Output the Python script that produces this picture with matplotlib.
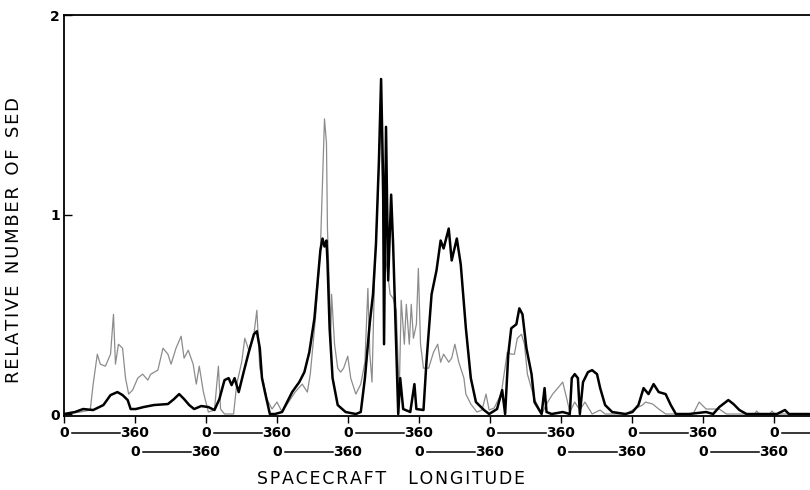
import numpy as np
import matplotlib
matplotlib.use("Agg")
import matplotlib.pyplot as plt
import matplotlib.transforms as mtransforms

# cumulative spacecraft longitude (deg) and relative number of SED
black_lon = [0, 56, 97, 148, 200, 236, 271, 297, 323, 338, 364, 404, 456, 527, 558, 584, 609,
             635, 660, 696, 732, 763, 788, 814, 835, 850, 865, 886, 911, 937, 963, 978, 993,
             1004, 1019, 1044, 1070, 1106, 1157, 1193, 1219, 1244, 1270, 1285, 1300, 1311,
             1321, 1331, 1336, 1347, 1362, 1388, 1428, 1480, 1505, 1526, 1551, 1567, 1582,
             1597, 1608, 1618, 1623, 1633, 1644, 1659, 1669, 1679, 1695, 1705, 1720, 1756,
             1777, 1787, 1823, 1838, 1864, 1889, 1910, 1925, 1951, 1966, 1992, 2012, 2038,
             2063, 2089, 2130, 2156, 2196, 2222, 2237, 2253, 2268, 2294, 2309, 2325, 2345,
             2371, 2386, 2422, 2437, 2447, 2473, 2529, 2565, 2575, 2590, 2606, 2616, 2632,
             2657, 2678, 2703, 2719, 2744, 2780, 2847, 2883, 2913, 2939, 2964, 2990, 3016,
             3051, 3077, 3103, 3169, 3256, 3292, 3323, 3369, 3395, 3425, 3461, 3615, 3656,
             3676, 3820]
black_sed = [0.0, 0.01, 0.025, 0.02, 0.045, 0.095, 0.11, 0.095, 0.07, 0.025, 0.025, 0.035,
             0.045, 0.05, 0.075, 0.10, 0.075, 0.045, 0.025, 0.04, 0.035, 0.02, 0.075, 0.17,
             0.18, 0.145, 0.18, 0.11, 0.21, 0.31, 0.40, 0.415, 0.33, 0.18, 0.11, 0.0, 0.0,
             0.01, 0.11, 0.16, 0.21, 0.31, 0.48, 0.65, 0.82, 0.88, 0.84, 0.87, 0.77, 0.43,
             0.18, 0.045, 0.01, 0.0, 0.01, 0.18, 0.46, 0.60, 0.85, 1.27, 1.68, 1.19, 0.35,
             1.44, 0.67, 1.10, 0.85, 0.52, 0.0, 0.18, 0.025, 0.01, 0.15, 0.025, 0.02, 0.26,
             0.60, 0.72, 0.87, 0.83, 0.93, 0.77, 0.88, 0.75, 0.43, 0.18, 0.06, 0.02, 0.0,
             0.025, 0.12, 0.0, 0.30, 0.43, 0.45, 0.53, 0.50, 0.33, 0.20, 0.06, 0.0, 0.13,
             0.01, 0.0, 0.01, 0.0, 0.18, 0.20, 0.18, 0.0, 0.16, 0.21, 0.22, 0.20, 0.13,
             0.045, 0.01, 0.0, 0.01, 0.045, 0.13, 0.10, 0.15, 0.11, 0.10, 0.045, 0.0, 0.0,
             0.01, 0.0, 0.035, 0.07, 0.05, 0.02, 0.0, 0.0, 0.02, 0.0, 0.0]

grey_lon = [0, 82, 133, 148, 169, 184, 210, 236, 251, 261, 276, 297, 312, 328, 348, 374, 399,
            425, 440, 476, 502, 527, 543, 568, 594, 609, 630, 655, 671, 686, 707, 732, 763,
            783, 794, 814, 860, 876, 901, 917, 937, 963, 978, 993, 1014, 1029, 1055, 1080,
            1106, 1172, 1208, 1234, 1249, 1275, 1300, 1321, 1331, 1336, 1347, 1352, 1357,
            1372, 1388, 1403, 1418, 1439, 1454, 1480, 1505, 1526, 1541, 1551, 1562, 1577,
            1592, 1603, 1608, 1618, 1633, 1654, 1669, 1685, 1700, 1710, 1726, 1736, 1751,
            1761, 1772, 1787, 1797, 1808, 1823, 1849, 1874, 1895, 1910, 1925, 1951, 1966,
            1982, 2002, 2028, 2038, 2063, 2094, 2120, 2140, 2156, 2181, 2217, 2232, 2248,
            2268, 2284, 2299, 2320, 2335, 2350, 2386, 2422, 2453, 2478, 2504, 2529, 2550,
            2565, 2590, 2616, 2642, 2678, 2719, 2744, 2847, 2883, 2934, 2949, 2985, 3016,
            3051, 3190, 3221, 3256, 3323, 3359, 3502, 3512, 3528, 3579, 3590, 3605, 3820]
grey_sed = [0.0, 0.01, 0.02, 0.15, 0.30, 0.25, 0.24, 0.30, 0.50, 0.25, 0.35, 0.33, 0.18,
            0.10, 0.12, 0.18, 0.20, 0.17, 0.20, 0.22, 0.33, 0.30, 0.25, 0.33, 0.39, 0.28,
            0.32, 0.25, 0.15, 0.24, 0.11, 0.01, 0.02, 0.24, 0.025, 0.0, 0.0, 0.15, 0.26,
            0.38, 0.32, 0.40, 0.52, 0.23, 0.15, 0.075, 0.025, 0.06, 0.01, 0.11, 0.15, 0.11,
            0.20, 0.48, 0.82, 1.48, 1.36, 0.93, 0.60, 0.35, 0.60, 0.35, 0.23, 0.21, 0.23,
            0.29, 0.18, 0.10, 0.15, 0.26, 0.63, 0.30, 0.16, 0.77, 1.10, 1.44, 1.36, 1.02,
            0.77, 0.60, 0.58, 0.52, 0.10, 0.57, 0.35, 0.55, 0.35, 0.55, 0.38, 0.45, 0.73,
            0.35, 0.23, 0.23, 0.31, 0.35, 0.26, 0.30, 0.26, 0.28, 0.35, 0.26, 0.18, 0.10,
            0.05, 0.01, 0.02, 0.10, 0.02, 0.03, 0.10, 0.20, 0.31, 0.30, 0.30, 0.38, 0.40,
            0.35, 0.20, 0.075, 0.0, 0.06, 0.10, 0.13, 0.16, 0.075, 0.01, 0.06, 0.02, 0.06,
            0.0, 0.02, 0.0, 0.0, 0.02, 0.045, 0.06, 0.05, 0.025, 0.0, 0.0, 0.06, 0.025,
            0.025, 0.0, 0.0, 0.015, 0.0, 0.0, 0.015, 0.0, 0.0]

n_turns = 11  # rotations shown along the axis (0-360 each)
x_max = 3820

fig = plt.figure(figsize=(8.1, 4.9), dpi=100)
ax = fig.add_axes([0.079, 0.151, 0.93, 0.818])

ax.plot(grey_lon, grey_sed, color="#8c8c8c", lw=0.9)
ax.plot(black_lon, black_sed, color="black", lw=1.8)

ax.set_xlim(0, x_max)
ax.set_ylim(-0.01, 2)
ax.spines["right"].set_visible(False)
for s in ["left", "top", "bottom"]:
    ax.spines[s].set_linewidth(1.3)

ax.set_yticks([0, 1, 2])
ax.set_yticklabels(["0", "1", "2"], fontsize=10, fontweight="bold")
ax.tick_params(axis="y", direction="in", length=6, width=1, pad=3)
ax.set_xticks([360 * k for k in range(n_turns)])
ax.set_xticklabels([])
ax.tick_params(axis="x", direction="out", length=5, width=1)

# 0 ---- 360 labels, alternating on two rows
trans = mtransforms.blended_transform_factory(ax.transData, ax.transAxes)
num_font = dict(fontsize=10, fontweight="bold", ha="center", va="center",
                transform=trans, clip_on=False)
for k in range(n_turns):
    y = -0.043 if k % 2 == 0 else -0.09
    x0 = 360 * k
    x1 = 360 * (k + 1)
    ax.text(x0, y, "0", **num_font)
    if x1 <= x_max:
        ax.text(x1, y, "360", **num_font)
    ax.plot([x0 + 40, min(x1 - 75, x_max)], [y, y], color="black", lw=1.1,
            transform=trans, clip_on=False)

hs = "\u200a"
ax.set_xlabel(hs.join("SPACECRAFT") + "    " + hs.join("LONGITUDE"), fontsize=12.5)
ax.xaxis.set_label_coords(0.434, -0.135)
ax.set_ylabel("  ".join(hs.join(w) for w in ["RELATIVE", "NUMBER", "OF", "SED"]),
              fontsize=13)
ax.yaxis.set_label_coords(-0.054, 0.44)

fig.savefig("out.png", dpi=100)
